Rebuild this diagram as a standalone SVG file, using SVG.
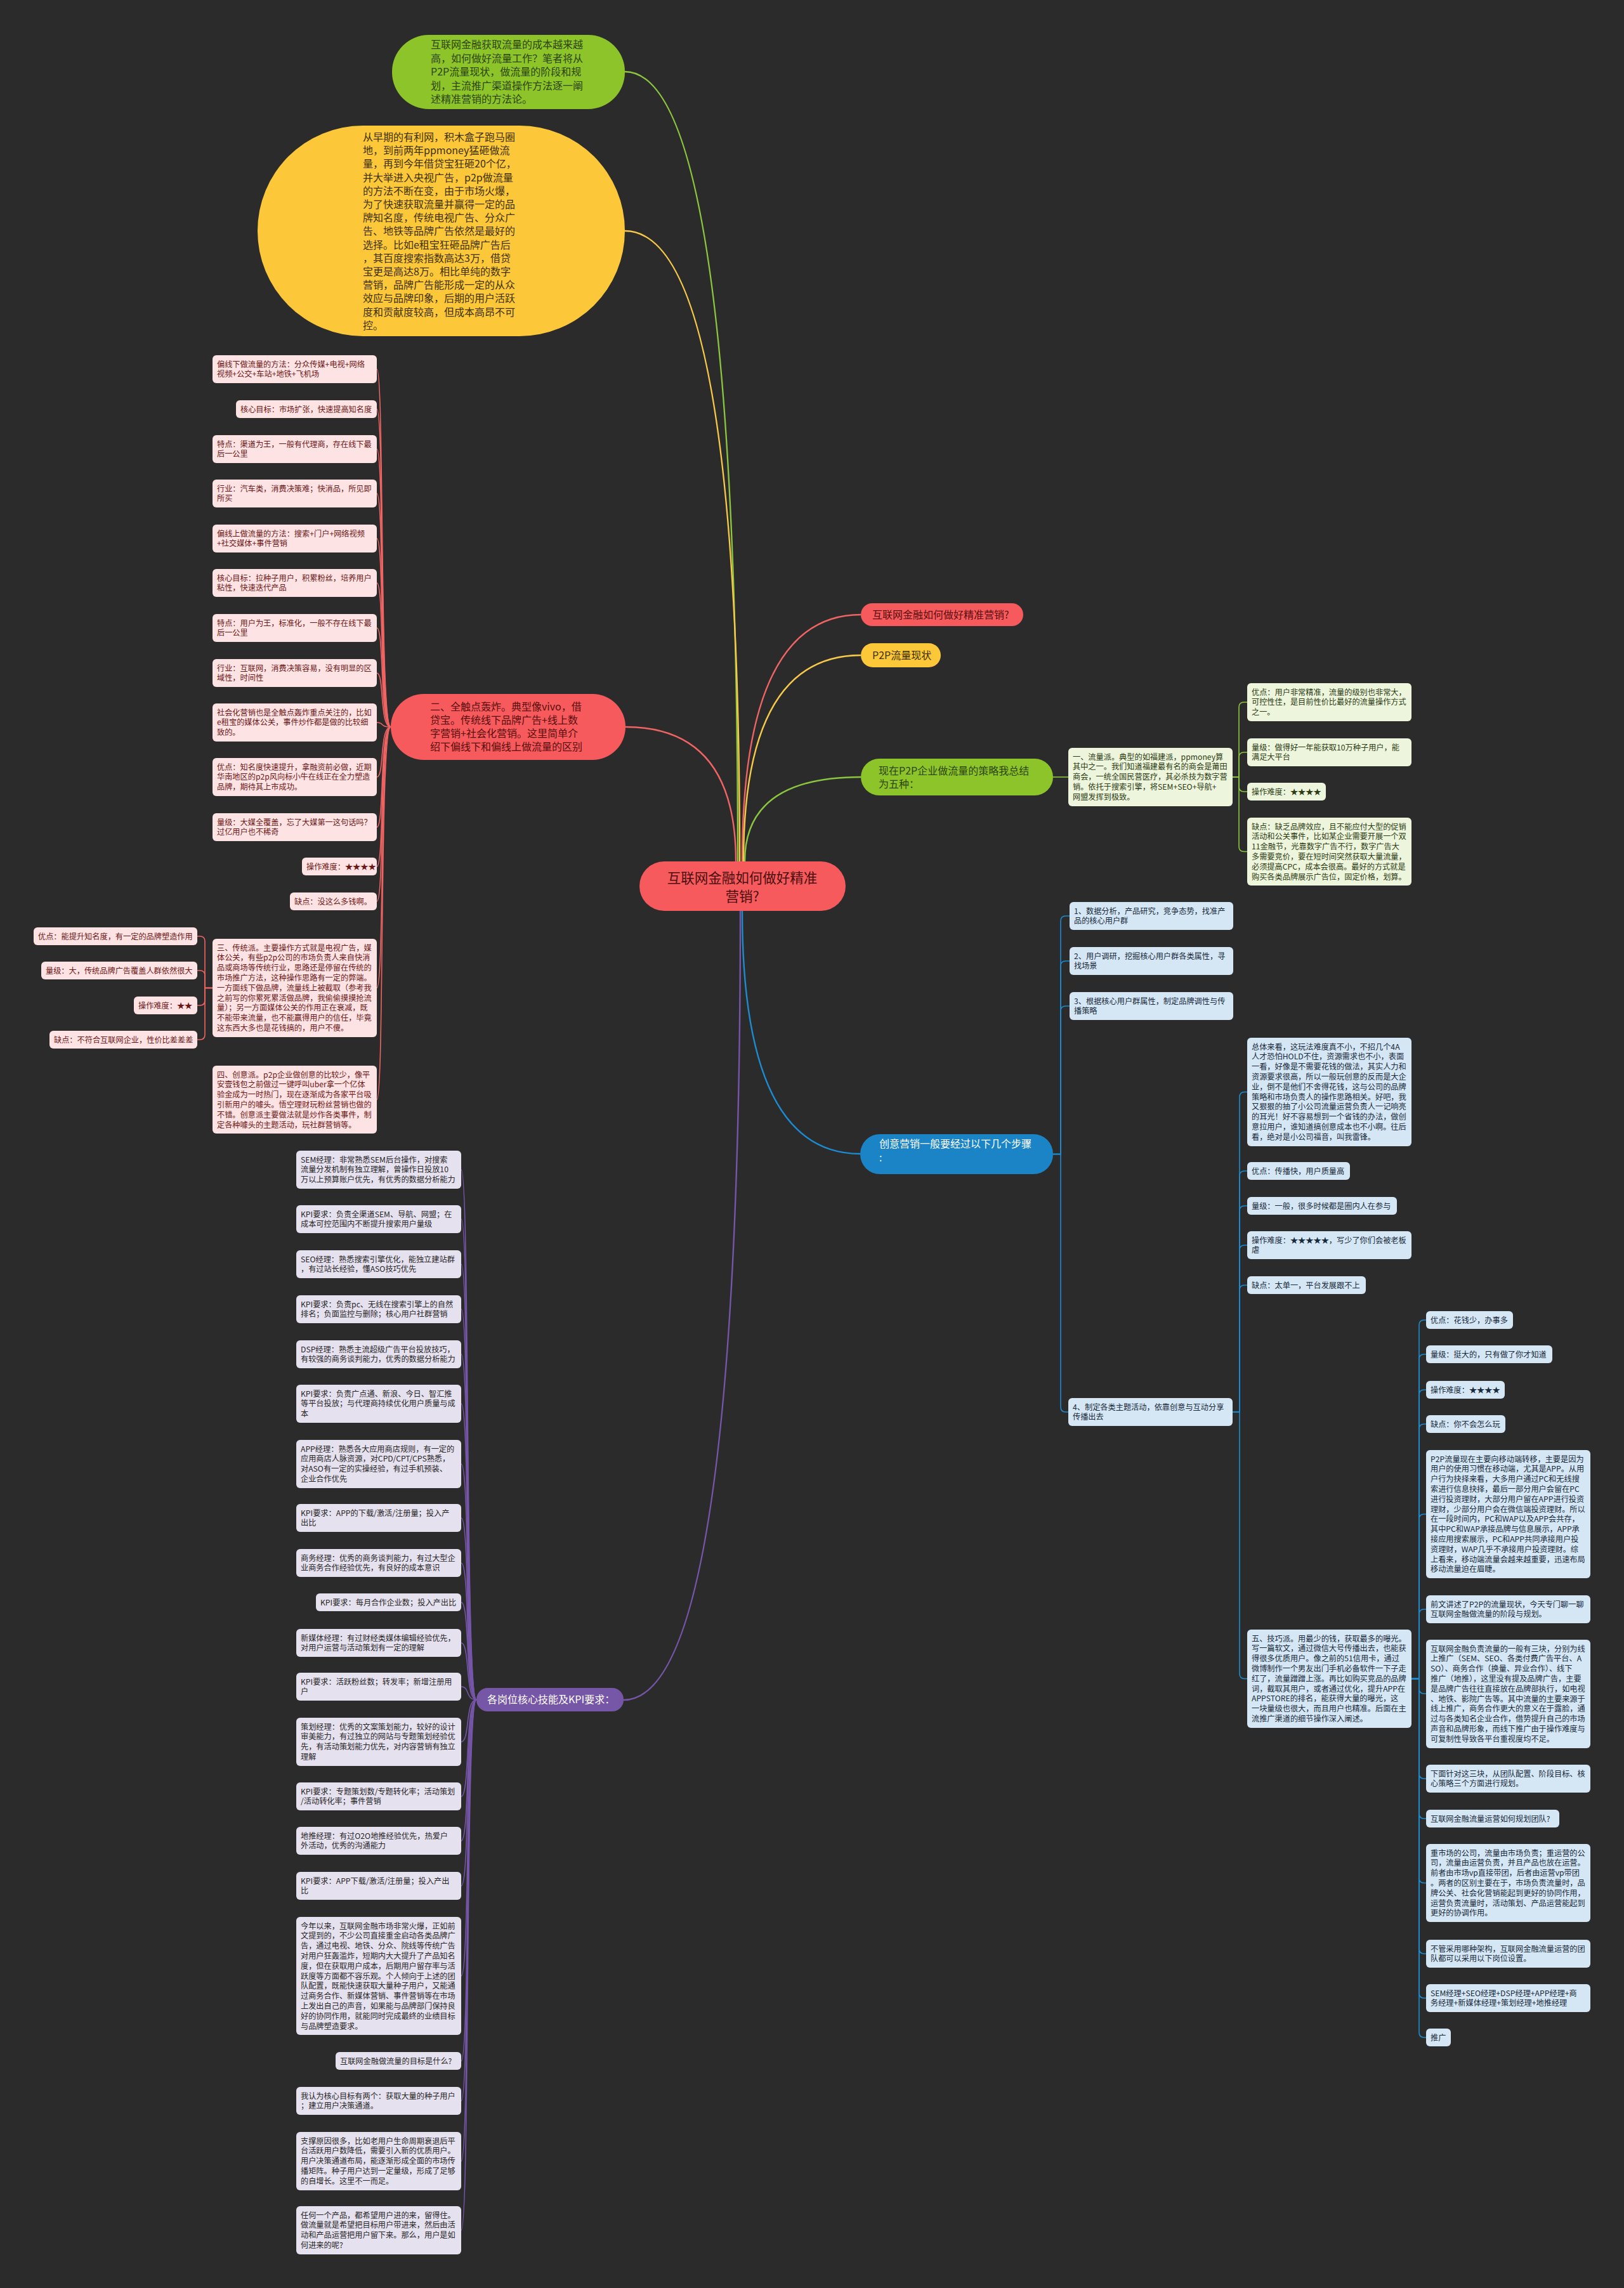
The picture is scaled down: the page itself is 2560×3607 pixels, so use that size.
<svg xmlns="http://www.w3.org/2000/svg" width="2560" height="3607" viewBox="0 0 2560 3607">
<style>
.t{font-family:'Noto Sans CJK SC','Microsoft YaHei',sans-serif;font-size:12.2px}
.h{font-family:'Noto Sans CJK SC','Microsoft YaHei',sans-serif;font-size:16px}
.lr{fill:#fde3e3}.tr{fill:#6e1616}
.lg{fill:#edf5dc}.tg{fill:#2c3b12}
.lb{fill:#d5e7f4}.tb{fill:#17293a}
.lp{fill:#e6e1ef}.tp{fill:#262626}
.c{fill:none;stroke-width:1.6}
.cr{stroke:#f06464}.cy{stroke:#f7c948}.cg{stroke:#8cc63f}.cb{stroke:#1d8bd0}.cp{stroke:#7656a8}
.m{fill:none;stroke-width:2.4}
</style>
<rect x="0" y="0" width="2560" height="3607" fill="#2b2b2b"/>

<g id="connectors">
<path class="m cg" d="M1163,1358 Q1163,113 985,113"/>
<path class="m cy" d="M1166,1358 Q1166,364 985,364"/>
<path class="m cr" d="M1170,1358 Q1170,969 1357,969"/>
<path class="m cy" d="M1172,1358 Q1172,1033 1357,1033"/>
<path class="m cg" d="M1174,1358 Q1174,1225 1357,1225"/>
<path class="m cr" d="M1160,1358 Q1160,1146 986,1146"/>
<path class="m cb" d="M1170,1436 Q1170,1819 1356,1819"/>
<path class="m cp" d="M1167,1436 Q1167,2680 983,2680"/>

<path class="c cr" d="M616,1146 C598,1146 606,582 594,582"/>
<path class="c cr" d="M616,1146 C598,1146 606,645 594,645"/>
<path class="c cr" d="M616,1146 C598,1146 606,708 594,708"/>
<path class="c cr" d="M616,1146 C598,1146 606,778 594,778"/>
<path class="c cr" d="M616,1146 C598,1146 606,849 594,849"/>
<path class="c cr" d="M616,1146 C598,1146 606,919 594,919"/>
<path class="c cr" d="M616,1146 C598,1146 606,990 594,990"/>
<path class="c cr" d="M616,1146 C598,1146 606,1061 594,1061"/>
<path class="c cr" d="M616,1146 C598,1146 606,1139 594,1139"/>
<path class="c cr" d="M616,1146 C598,1146 606,1225 594,1225"/>
<path class="c cr" d="M616,1146 C598,1146 606,1304 594,1304"/>
<path class="c cr" d="M616,1146 C598,1146 606,1366 594,1366"/>
<path class="c cr" d="M616,1146 C598,1146 606,1421 594,1421"/>
<path class="c cr" d="M616,1146 C598,1146 606,1557.5 594,1557.5"/>
<path class="c cr" d="M616,1146 C598,1146 606,1733.5 594,1733.5"/>
<path class="c cr" d="M335,1557.5 H323 V1484 Q323,1476 315,1476 H311"/>
<path class="c cr" d="M335,1557.5 H323 V1538 Q323,1530 315,1530 H311"/>
<path class="c cr" d="M335,1557.5 H323 V1577 Q323,1585 315,1585 H311"/>
<path class="c cr" d="M335,1557.5 H323 V1631 Q323,1639 315,1639 H311"/>

<path class="c cg" d="M1660,1225 H1684"/>
<path class="c cg" d="M1943,1225 H1953 V1115 Q1953,1107 1961,1107 H1966"/>
<path class="c cg" d="M1943,1225 H1953 V1194 Q1953,1186 1961,1186 H1966"/>
<path class="c cg" d="M1943,1225 H1953 V1240 Q1953,1248 1961,1248 H1966"/>
<path class="c cg" d="M1943,1225 H1953 V1334.5 Q1953,1342.5 1961,1342.5 H1966"/>

<path class="c cb" d="M1660,1819.5 H1672 V1452 Q1672,1444 1680,1444 H1686"/>
<path class="c cb" d="M1660,1819.5 H1672 V1523 Q1672,1515 1680,1515 H1686"/>
<path class="c cb" d="M1660,1819.5 H1672 V1594 Q1672,1586 1680,1586 H1686"/>
<path class="c cb" d="M1660,1819.5 H1672 V2218 Q1672,2226 1680,2226 H1684"/>
<path class="c cb" d="M1943,2226 H1954 V1729.5 Q1954,1721.5 1962,1721.5 H1966"/>
<path class="c cb" d="M1943,2226 H1954 V1854 Q1954,1846 1962,1846 H1966"/>
<path class="c cb" d="M1943,2226 H1954 V1909 Q1954,1901 1962,1901 H1966"/>
<path class="c cb" d="M1943,2226 H1954 V1971 Q1954,1963 1962,1963 H1966"/>
<path class="c cb" d="M1943,2226 H1954 V2034 Q1954,2026 1962,2026 H1966"/>
<path class="c cb" d="M1943,2226 H1954 V2638.5 Q1954,2646.5 1962,2646.5 H1966"/>
<path class="c cb" d="M2225,2646.5 H2237 V2089 Q2237,2081 2245,2081 H2248"/>
<path class="c cb" d="M2225,2646.5 H2237 V2143 Q2237,2135 2245,2135 H2248"/>
<path class="c cb" d="M2225,2646.5 H2237 V2199 Q2237,2191 2245,2191 H2248"/>
<path class="c cb" d="M2225,2646.5 H2237 V2253 Q2237,2245 2245,2245 H2248"/>
<path class="c cb" d="M2225,2646.5 H2237 V2395 Q2237,2387 2245,2387 H2248"/>
<path class="c cb" d="M2225,2646.5 H2237 V2545 Q2237,2537 2245,2537 H2248"/>
<path class="c cb" d="M2225,2646.5 H2237 V2662 Q2237,2670 2245,2670 H2248"/>
<path class="c cb" d="M2225,2646.5 H2237 V2796 Q2237,2804 2245,2804 H2248"/>
<path class="c cb" d="M2225,2646.5 H2237 V2859 Q2237,2867 2245,2867 H2248"/>
<path class="c cb" d="M2225,2646.5 H2237 V2960.5 Q2237,2968.5 2245,2968.5 H2248"/>
<path class="c cb" d="M2225,2646.5 H2237 V3072 Q2237,3080 2245,3080 H2248"/>
<path class="c cb" d="M2225,2646.5 H2237 V3142 Q2237,3150 2245,3150 H2248"/>
<path class="c cb" d="M2225,2646.5 H2237 V3204 Q2237,3212 2245,3212 H2248"/>

<path class="c cp" d="M751,2679.5 C733,2679.5 741,1844 727,1844"/>
<path class="c cp" d="M751,2679.5 C733,2679.5 741,1922 727,1922"/>
<path class="c cp" d="M751,2679.5 C733,2679.5 741,1993 727,1993"/>
<path class="c cp" d="M751,2679.5 C733,2679.5 741,2064 727,2064"/>
<path class="c cp" d="M751,2679.5 C733,2679.5 741,2135 727,2135"/>
<path class="c cp" d="M751,2679.5 C733,2679.5 741,2213 727,2213"/>
<path class="c cp" d="M751,2679.5 C733,2679.5 741,2308 727,2308"/>
<path class="c cp" d="M751,2679.5 C733,2679.5 741,2393 727,2393"/>
<path class="c cp" d="M751,2679.5 C733,2679.5 741,2464 727,2464"/>
<path class="c cp" d="M751,2679.5 C733,2679.5 741,2526 727,2526"/>
<path class="c cp" d="M751,2679.5 C733,2679.5 741,2590 727,2590"/>
<path class="c cp" d="M751,2679.5 C733,2679.5 741,2659 727,2659"/>
<path class="c cp" d="M751,2679.5 C733,2679.5 741,2746 727,2746"/>
<path class="c cp" d="M751,2679.5 C733,2679.5 741,2832 727,2832"/>
<path class="c cp" d="M751,2679.5 C733,2679.5 741,2902 727,2902"/>
<path class="c cp" d="M751,2679.5 C733,2679.5 741,2973 727,2973"/>
<path class="c cp" d="M751,2679.5 C733,2679.5 741,3115 727,3115"/>
<path class="c cp" d="M751,2679.5 C733,2679.5 741,3249 727,3249"/>
<path class="c cp" d="M751,2679.5 C733,2679.5 741,3312 727,3312"/>
<path class="c cp" d="M751,2679.5 C733,2679.5 741,3407 727,3407"/>
<path class="c cp" d="M751,2679.5 C733,2679.5 741,3516 727,3516"/>
</g>

<g id="root"><rect x="1008" y="1358" width="325" height="78" rx="39" fill="#f65a5c"/>
<text font-family="'Noto Sans CJK SC','Microsoft YaHei',sans-serif" font-size="21.5" fill="#4a0f10" text-anchor="middle"><tspan x="1170" y="1392">互联网金融如何做好精准</tspan><tspan x="1170" y="1421">营销?</tspan></text></g>

<g id="intro-green"><rect x="618" y="55" width="367" height="117" rx="58" fill="#8cc42a"/>
<text class="h" fill="#2c450a"><tspan x="679" y="76">互联网金融获取流量的成本越来越</tspan><tspan x="679" y="97.5">高，如何做好流量工作？笔者将从</tspan><tspan x="679" y="119">P2P流量现状，做流量的阶段和规</tspan><tspan x="679" y="140.5">划，主流推广渠道操作方法逐一阐</tspan><tspan x="679" y="162">述精准营销的方法论。</tspan></text></g>

<g id="intro-yellow"><rect x="406" y="198" width="579" height="332" rx="166" fill="#fcc83a"/>
<text class="h" fill="#3e3000"><tspan x="572" y="222">从早期的有利网，积木盒子跑马圈</tspan><tspan x="572" y="243.2">地，到前两年ppmoney猛砸做流</tspan><tspan x="572" y="264.4">量，再到今年借贷宝狂砸20个亿，</tspan><tspan x="572" y="285.6">并大举进入央视广告，p2p做流量</tspan><tspan x="572" y="306.8">的方法不断在变，由于市场火爆，</tspan><tspan x="572" y="328">为了快速获取流量并赢得一定的品</tspan><tspan x="572" y="349.2">牌知名度，传统电视广告、分众广</tspan><tspan x="572" y="370.4">告、地铁等品牌广告依然是最好的</tspan><tspan x="572" y="391.6">选择。比如e租宝狂砸品牌广告后</tspan><tspan x="572" y="412.8">，其百度搜索指数高达3万，借贷</tspan><tspan x="572" y="434">宝更是高达8万。相比单纯的数字</tspan><tspan x="572" y="455.2">营销，品牌广告能形成一定的从众</tspan><tspan x="572" y="476.4">效应与品牌印象，后期的用户活跃</tspan><tspan x="572" y="497.6">度和贡献度较高，但成本高昂不可</tspan><tspan x="572" y="518.8">控。</tspan></text></g>

<g id="n-red-title"><rect x="1357" y="951" width="256" height="36" rx="18" fill="#f65a5c"/><text class="h" fill="#5a0e0e" x="1375" y="975">互联网金融如何做好精准营销?</text></g>
<g id="n-p2p"><rect x="1357" y="1014" width="126" height="38" rx="19" fill="#fcc83a"/><text class="h" fill="#3e3000" x="1375" y="1039">P2P流量现状</text></g>
<g id="n-five"><rect x="1357" y="1196" width="303" height="58" rx="29" fill="#8cc42a"/><text class="h" fill="#2c450a"><tspan x="1385" y="1221">现在P2P企业做流量的策略我总结</tspan><tspan x="1385" y="1242">为五种：</tspan></text></g>
<g id="n-creative"><rect x="1356" y="1788" width="304" height="63" rx="31" fill="#1b84c6"/><text class="h" fill="#ffffff"><tspan x="1386" y="1809">创意营销一般要经过以下几个步骤</tspan><tspan x="1386" y="1831">:</tspan></text></g>
<g id="n-kpi"><rect x="751" y="2661" width="232" height="37" rx="18" fill="#7656a6"/><text class="h" fill="#ffffff" x="768" y="2685">各岗位核心技能及KPI要求：</text></g>
<g id="n-touch"><rect x="616" y="1094" width="370" height="104" rx="52" fill="#f65a5c"/>
<text class="h" fill="#5a0e0e"><tspan x="678" y="1120">二、全触点轰炸。典型像vivo，借</tspan><tspan x="678" y="1141">贷宝。传统线下品牌广告+线上数</tspan><tspan x="678" y="1162">字营销+社会化营销。这里简单介</tspan><tspan x="678" y="1183">绍下偏线下和偏线上做流量的区别</tspan></text></g>

<g id="r1"><rect class="lr" x="335" y="560" width="259" height="44" rx="6"/><text class="t tr"><tspan x="342" y="578.5">偏线下做流量的方法：分众传媒+电视+网络</tspan><tspan x="342" y="594.3">视频+公交+车站+地铁+飞机场</tspan></text></g>
<g id="r2"><rect class="lr" x="372" y="631" width="222" height="28" rx="6"/><text class="t tr" x="379" y="649.5">核心目标：市场扩张，快速提高知名度</text></g>
<g id="r3"><rect class="lr" x="335" y="686" width="259" height="44" rx="6"/><text class="t tr"><tspan x="342" y="704.5">特点：渠道为王，一般有代理商，存在线下最</tspan><tspan x="342" y="720.3">后一公里</tspan></text></g>
<g id="r4"><rect class="lr" x="335" y="756" width="259" height="44" rx="6"/><text class="t tr"><tspan x="342" y="774.5">行业：汽车类，消费决策难；快消品，所见即</tspan><tspan x="342" y="790.3">所买</tspan></text></g>
<g id="r5"><rect class="lr" x="335" y="827" width="259" height="44" rx="6"/><text class="t tr"><tspan x="342" y="845.5">偏线上做流量的方法：搜索+门户+网络视频</tspan><tspan x="342" y="861.3">+社交媒体+事件营销</tspan></text></g>
<g id="r6"><rect class="lr" x="335" y="897" width="259" height="44" rx="6"/><text class="t tr"><tspan x="342" y="915.5">核心目标：拉种子用户，积累粉丝，培养用户</tspan><tspan x="342" y="931.3">粘性，快速迭代产品</tspan></text></g>
<g id="r7"><rect class="lr" x="335" y="968" width="259" height="44" rx="6"/><text class="t tr"><tspan x="342" y="986.5">特点：用户为王，标准化，一般不存在线下最</tspan><tspan x="342" y="1002.3">后一公里</tspan></text></g>
<g id="r8"><rect class="lr" x="335" y="1039" width="259" height="44" rx="6"/><text class="t tr"><tspan x="342" y="1057.5">行业：互联网，消费决策容易，没有明显的区</tspan><tspan x="342" y="1073.3">域性，时间性</tspan></text></g>
<g id="r9"><rect class="lr" x="335" y="1109" width="259" height="60" rx="6"/><text class="t tr"><tspan x="342" y="1127.5">社会化营销也是全触点轰炸重点关注的，比如</tspan><tspan x="342" y="1143.3">e租宝的媒体公关，事件炒作都是做的比较细</tspan><tspan x="342" y="1159.1">致的。</tspan></text></g>
<g id="r10"><rect class="lr" x="335" y="1195" width="259" height="60" rx="6"/><text class="t tr"><tspan x="342" y="1213.5">优点：知名度快速提升，拿融资前必做，近期</tspan><tspan x="342" y="1229.3">华南地区的p2p风向标小牛在线正在全力塑造</tspan><tspan x="342" y="1245.1">品牌，期待其上市成功。</tspan></text></g>
<g id="r11"><rect class="lr" x="335" y="1282" width="259" height="44" rx="6"/><text class="t tr"><tspan x="342" y="1300.5">量级：大媒全覆盖，忘了大媒第一这句话吗？</tspan><tspan x="342" y="1316.3">过亿用户也不稀奇</tspan></text></g>
<g id="r12"><rect class="lr" x="476" y="1352" width="118" height="28" rx="6"/><text class="t tr" x="483" y="1370.5">操作难度：★★★★</text></g>
<g id="r13"><rect class="lr" x="457" y="1407" width="137" height="28" rx="6"/><text class="t tr" x="464" y="1425.5">缺点：没这么多钱啊。</text></g>
<g id="r14"><rect class="lr" x="335" y="1480" width="259" height="155" rx="6"/><text class="t tr"><tspan x="342" y="1498.5">三、传统派。主要操作方式就是电视广告，媒</tspan><tspan x="342" y="1514.3">体公关，有些p2p公司的市场负责人来自快消</tspan><tspan x="342" y="1530.1">品或商场等传统行业，思路还是停留在传统的</tspan><tspan x="342" y="1545.9">市场推广方法，这种操作思路有一定的弊端。</tspan><tspan x="342" y="1561.7">一方面线下做品牌，流量线上被截取（参考我</tspan><tspan x="342" y="1577.5">之前写的你累死累活做品牌，我偷偷摸摸抢流</tspan><tspan x="342" y="1593.3">量）；另一方面媒体公关的作用正在衰减，既</tspan><tspan x="342" y="1609.1">不能带来流量，也不能赢得用户的信任，毕竟</tspan><tspan x="342" y="1624.9">这东西大多也是花钱搞的，用户不傻。</tspan></text></g>
<g id="r15"><rect class="lr" x="335" y="1680" width="259" height="107" rx="6"/><text class="t tr"><tspan x="342" y="1698.5">四、创意派。p2p企业做创意的比较少，像平</tspan><tspan x="342" y="1714.3">安壹钱包之前做过一键呼叫uber拿一个亿体</tspan><tspan x="342" y="1730.1">验金成为一时热门，现在逐渐成为各家平台吸</tspan><tspan x="342" y="1745.9">引新用户的噱头。悟空理财玩粉丝营销也做的</tspan><tspan x="342" y="1761.7">不错。创意派主要做法就是炒作各类事件，制</tspan><tspan x="342" y="1777.5">定各种噱头的主题活动，玩社群营销等。</tspan></text></g>
<g id="l1"><rect class="lr" x="53" y="1462" width="258" height="28" rx="6"/><text class="t tr" x="60" y="1480.5">优点：能提升知名度，有一定的品牌塑造作用</text></g>
<g id="l2"><rect class="lr" x="65" y="1516" width="246" height="28" rx="6"/><text class="t tr" x="72" y="1534.5">量级：大，传统品牌广告覆盖人群依然很大</text></g>
<g id="l3"><rect class="lr" x="211" y="1571" width="100" height="28" rx="6"/><text class="t tr" x="218" y="1589.5">操作难度：★★</text></g>
<g id="l4"><rect class="lr" x="78" y="1625" width="233" height="28" rx="6"/><text class="t tr" x="85" y="1643.5">缺点：不符合互联网企业，性价比差差差</text></g>

<g id="g0"><rect class="lg" x="1684" y="1179" width="259" height="92" rx="6"/><text class="t tg"><tspan x="1691" y="1197.5">一、流量派。典型的如福建派，ppmoney算</tspan><tspan x="1691" y="1213.3">其中之一。我们知道福建最有名的商会是莆田</tspan><tspan x="1691" y="1229.1">商会，一统全国民营医疗，其必杀技为数字营</tspan><tspan x="1691" y="1244.9">销。依托于搜索引擎，将SEM+SEO+导航+</tspan><tspan x="1691" y="1260.7">网盟发挥到极致。</tspan></text></g>
<g id="g1"><rect class="lg" x="1966" y="1077" width="259" height="60" rx="6"/><text class="t tg"><tspan x="1973" y="1095.5">优点：用户非常精准，流量的级别也非常大，</tspan><tspan x="1973" y="1111.3">可控性佳，是目前性价比最好的流量操作方式</tspan><tspan x="1973" y="1127.1">之一。</tspan></text></g>
<g id="g2"><rect class="lg" x="1966" y="1164" width="259" height="44" rx="6"/><text class="t tg"><tspan x="1973" y="1182.5">量级：做得好一年能获取10万种子用户，能</tspan><tspan x="1973" y="1198.3">满足大平台</tspan></text></g>
<g id="g3"><rect class="lg" x="1966" y="1234" width="124" height="28" rx="6"/><text class="t tg" x="1973" y="1252.5">操作难度：★★★★</text></g>
<g id="g4"><rect class="lg" x="1966" y="1289" width="259" height="107" rx="6"/><text class="t tg"><tspan x="1973" y="1307.5">缺点：缺乏品牌效应，且不能应付大型的促销</tspan><tspan x="1973" y="1323.3">活动和公关事件，比如某企业需要开展一个双</tspan><tspan x="1973" y="1339.1">11金融节，光靠数字广告不行，数字广告大</tspan><tspan x="1973" y="1354.9">多需要竞价，要在短时间突然获取大量流量，</tspan><tspan x="1973" y="1370.7">必须提高CPC，成本会很高。最好的方式就是</tspan><tspan x="1973" y="1386.5">购买各类品牌展示广告位，固定价格，划算。</tspan></text></g>

<g id="b1"><rect class="lb" x="1686" y="1422" width="258" height="44" rx="6"/><text class="t tb"><tspan x="1693" y="1440.5">1、数据分析，产品研究，竞争态势，找准产</tspan><tspan x="1693" y="1456.3">品的核心用户群</tspan></text></g>
<g id="b2"><rect class="lb" x="1686" y="1493" width="258" height="44" rx="6"/><text class="t tb"><tspan x="1693" y="1511.5">2、用户调研，挖掘核心用户群各类属性，寻</tspan><tspan x="1693" y="1527.3">找场景</tspan></text></g>
<g id="b3"><rect class="lb" x="1686" y="1564" width="258" height="44" rx="6"/><text class="t tb"><tspan x="1693" y="1582.5">3、根据核心用户群属性，制定品牌调性与传</tspan><tspan x="1693" y="1598.3">播策略</tspan></text></g>
<g id="b4"><rect class="lb" x="1684" y="2204" width="259" height="44" rx="6"/><text class="t tb"><tspan x="1691" y="2222.5">4、制定各类主题活动，依靠创意与互动分享</tspan><tspan x="1691" y="2238.3">传播出去</tspan></text></g>
<g id="c1"><rect class="lb" x="1966" y="1636" width="259" height="171" rx="6"/><text class="t tb"><tspan x="1973" y="1654.5">总体来看，这玩法难度真不小，不招几个4A</tspan><tspan x="1973" y="1670.3">人才恐怕HOLD不住，资源需求也不小，表面</tspan><tspan x="1973" y="1686.1">一看，好像是不需要花钱的做法，其实人力和</tspan><tspan x="1973" y="1701.9">资源要求很高，所以一般玩创意的反而是大企</tspan><tspan x="1973" y="1717.7">业，倒不是他们不舍得花钱，这与公司的品牌</tspan><tspan x="1973" y="1733.5">策略和市场负责人的操作思路相关。好吧，我</tspan><tspan x="1973" y="1749.3">又狠狠的抽了小公司流量运营负责人一记响亮</tspan><tspan x="1973" y="1765.1">的耳光！好不容易想到一个省钱的办法，做创</tspan><tspan x="1973" y="1780.9">意拉用户，谁知道搞创意成本也不小啊。往后</tspan><tspan x="1973" y="1796.7">看，绝对是小公司福音，叫我雷锋。</tspan></text></g>
<g id="c2"><rect class="lb" x="1966" y="1832" width="162" height="28" rx="6"/><text class="t tb" x="1973" y="1850.5">优点：传播快，用户质量高</text></g>
<g id="c3"><rect class="lb" x="1966" y="1887" width="236" height="28" rx="6"/><text class="t tb" x="1973" y="1905.5">量级：一般，很多时候都是圈内人在参与</text></g>
<g id="c4"><rect class="lb" x="1966" y="1941" width="259" height="44" rx="6"/><text class="t tb"><tspan x="1973" y="1959.5">操作难度：★★★★★，写少了你们会被老板</tspan><tspan x="1973" y="1975.3">虐</tspan></text></g>
<g id="c5"><rect class="lb" x="1966" y="2012" width="187" height="28" rx="6"/><text class="t tb" x="1973" y="2030.5">缺点：太单一，平台发展跟不上</text></g>
<g id="c6"><rect class="lb" x="1966" y="2569" width="259" height="155" rx="6"/><text class="t tb"><tspan x="1973" y="2587.5">五、技巧派。用最少的钱，获取最多的曝光。</tspan><tspan x="1973" y="2603.3">写一篇软文，通过微信大号传播出去，也能获</tspan><tspan x="1973" y="2619.1">得很多优质用户。像之前的51信用卡，通过</tspan><tspan x="1973" y="2634.9">微博制作一个男友出门手机必备软件一下子走</tspan><tspan x="1973" y="2650.7">红了，流量蹭蹭上涨。再比如购买竞品的品牌</tspan><tspan x="1973" y="2666.5">词，截取其用户，或者通过优化，提升APP在</tspan><tspan x="1973" y="2682.3">APPSTORE的排名，能获得大量的曝光，这</tspan><tspan x="1973" y="2698.1">一块量级也很大，而且用户也精准。后面在主</tspan><tspan x="1973" y="2713.9">流推广渠道的细节操作深入阐述。</tspan></text></g>

<g id="f1"><rect class="lb" x="2248" y="2067" width="137" height="28" rx="6"/><text class="t tb" x="2255" y="2085.5">优点：花钱少，办事多</text></g>
<g id="f2"><rect class="lb" x="2248" y="2121" width="199" height="28" rx="6"/><text class="t tb" x="2255" y="2139.5">量级：挺大的，只有做了你才知道</text></g>
<g id="f3"><rect class="lb" x="2248" y="2177" width="124" height="28" rx="6"/><text class="t tb" x="2255" y="2195.5">操作难度：★★★★</text></g>
<g id="f4"><rect class="lb" x="2248" y="2231" width="125" height="28" rx="6"/><text class="t tb" x="2255" y="2249.5">缺点：你不会怎么玩</text></g>
<g id="f5"><rect class="lb" x="2248" y="2286" width="259" height="202" rx="6"/><text class="t tb"><tspan x="2255" y="2304.5">P2P流量现在主要向移动端转移，主要是因为</tspan><tspan x="2255" y="2320.3">用户的使用习惯在移动端，尤其是APP。从用</tspan><tspan x="2255" y="2336.1">户行为抉择来看，大多用户通过PC和无线搜</tspan><tspan x="2255" y="2351.9">索进行信息抉择，最后一部分用户会留在PC</tspan><tspan x="2255" y="2367.7">进行投资理财，大部分用户留在APP进行投资</tspan><tspan x="2255" y="2383.5">理财，少部分用户会在微信端投资理财。所以</tspan><tspan x="2255" y="2399.3">在一段时间内，PC和WAP以及APP会共存，</tspan><tspan x="2255" y="2415.1">其中PC和WAP承接品牌与信息展示，APP承</tspan><tspan x="2255" y="2430.9">接应用搜索展示，PC和APP共同承接用户投</tspan><tspan x="2255" y="2446.7">资理财，WAP几乎不承接用户投资理财。综</tspan><tspan x="2255" y="2462.5">上看来，移动端流量会越来越重要，迅速布局</tspan><tspan x="2255" y="2478.3">移动流量迫在眉睫。</tspan></text></g>
<g id="f6"><rect class="lb" x="2248" y="2515" width="259" height="44" rx="6"/><text class="t tb"><tspan x="2255" y="2533.5">前文讲述了P2P的流量现状，今天专门聊一聊</tspan><tspan x="2255" y="2549.3">互联网金融做流量的阶段与规划。</tspan></text></g>
<g id="f7"><rect class="lb" x="2248" y="2585" width="259" height="171" rx="6"/><text class="t tb"><tspan x="2255" y="2603.5">互联网金融负责流量的一般有三块，分别为线</tspan><tspan x="2255" y="2619.3">上推广（SEM、SEO、各类付费广告平台、A</tspan><tspan x="2255" y="2635.1">SO）、商务合作（换量、异业合作）、线下</tspan><tspan x="2255" y="2650.9">推广（地推），这里没有提及品牌广告，主要</tspan><tspan x="2255" y="2666.7">是品牌广告往往直接放在品牌部执行，如电视</tspan><tspan x="2255" y="2682.5">、地铁、影院广告等。其中流量的主要来源于</tspan><tspan x="2255" y="2698.3">线上推广，商务合作更大的意义在于露脸，通</tspan><tspan x="2255" y="2714.1">过与各类知名企业合作，借势提升自己的市场</tspan><tspan x="2255" y="2729.9">声音和品牌形象，而线下推广由于操作难度与</tspan><tspan x="2255" y="2745.7">可复制性导致各平台重视度均不足。</tspan></text></g>
<g id="f8"><rect class="lb" x="2248" y="2782" width="259" height="44" rx="6"/><text class="t tb"><tspan x="2255" y="2800.5">下面针对这三块，从团队配置、阶段目标、核</tspan><tspan x="2255" y="2816.3">心策略三个方面进行规划。</tspan></text></g>
<g id="f9"><rect class="lb" x="2248" y="2853" width="210" height="28" rx="6"/><text class="t tb" x="2255" y="2871.5">互联网金融流量运营如何规划团队?</text></g>
<g id="f10"><rect class="lb" x="2248" y="2907" width="259" height="123" rx="6"/><text class="t tb"><tspan x="2255" y="2925.5">重市场的公司，流量由市场负责；重运营的公</tspan><tspan x="2255" y="2941.3">司，流量由运营负责，并且产品也放在运营。</tspan><tspan x="2255" y="2957.1">前者由市场vp直接带团，后者由运营vp带团</tspan><tspan x="2255" y="2972.9">。两者的区别主要在于，市场负责流量时，品</tspan><tspan x="2255" y="2988.7">牌公关、社会化营销能起到更好的协同作用，</tspan><tspan x="2255" y="3004.5">运营负责流量时，活动策划、产品运营能起到</tspan><tspan x="2255" y="3020.3">更好的协调作用。</tspan></text></g>
<g id="f11"><rect class="lb" x="2248" y="3058" width="259" height="44" rx="6"/><text class="t tb"><tspan x="2255" y="3076.5">不管采用哪种架构，互联网金融流量运营的团</tspan><tspan x="2255" y="3092.3">队都可以采用以下岗位设置。</tspan></text></g>
<g id="f12"><rect class="lb" x="2248" y="3128" width="259" height="44" rx="6"/><text class="t tb"><tspan x="2255" y="3146.5">SEM经理+SEO经理+DSP经理+APP经理+商</tspan><tspan x="2255" y="3162.3">务经理+新媒体经理+策划经理+地推经理</tspan></text></g>
<g id="f13"><rect class="lb" x="2248" y="3198" width="39" height="28" rx="6"/><text class="t tb" x="2255" y="3216.5">推广</text></g>

<g id="p1"><rect class="lp" x="467" y="1814" width="260" height="60" rx="6"/><text class="t tp"><tspan x="474" y="1832.5">SEM经理：非常熟悉SEM后台操作，对搜索</tspan><tspan x="474" y="1848.3">流量分发机制有独立理解，曾操作日投放10</tspan><tspan x="474" y="1864.1">万以上预算账户优先，有优秀的数据分析能力</tspan></text></g>
<g id="p2"><rect class="lp" x="467" y="1900" width="260" height="44" rx="6"/><text class="t tp"><tspan x="474" y="1918.5">KPI要求：负责全渠道SEM、导航、网盟；在</tspan><tspan x="474" y="1934.3">成本可控范围内不断提升搜索用户量级</tspan></text></g>
<g id="p3"><rect class="lp" x="467" y="1971" width="260" height="44" rx="6"/><text class="t tp"><tspan x="474" y="1989.5">SEO经理：熟悉搜索引擎优化，能独立建站群</tspan><tspan x="474" y="2005.3">，有过站长经验，懂ASO技巧优先</tspan></text></g>
<g id="p4"><rect class="lp" x="467" y="2042" width="260" height="44" rx="6"/><text class="t tp"><tspan x="474" y="2060.5">KPI要求：负责pc、无线在搜索引擎上的自然</tspan><tspan x="474" y="2076.3">排名；负面监控与删除；核心用户社群营销</tspan></text></g>
<g id="p5"><rect class="lp" x="467" y="2113" width="260" height="44" rx="6"/><text class="t tp"><tspan x="474" y="2131.5">DSP经理：熟悉主流超级广告平台投放技巧，</tspan><tspan x="474" y="2147.3">有较强的商务谈判能力，优秀的数据分析能力</tspan></text></g>
<g id="p6"><rect class="lp" x="467" y="2183" width="260" height="60" rx="6"/><text class="t tp"><tspan x="474" y="2201.5">KPI要求：负责广点通、新浪、今日、智汇推</tspan><tspan x="474" y="2217.3">等平台投放；与代理商持续优化用户质量与成</tspan><tspan x="474" y="2233.1">本</tspan></text></g>
<g id="p7"><rect class="lp" x="467" y="2270" width="260" height="76" rx="6"/><text class="t tp"><tspan x="474" y="2288.5">APP经理：熟悉各大应用商店规则，有一定的</tspan><tspan x="474" y="2304.3">应用商店人脉资源，对CPD/CPT/CPS熟悉，</tspan><tspan x="474" y="2320.1">对ASO有一定的实操经验，有过手机预装、</tspan><tspan x="474" y="2335.9">企业合作优先</tspan></text></g>
<g id="p8"><rect class="lp" x="467" y="2371" width="260" height="44" rx="6"/><text class="t tp"><tspan x="474" y="2389.5">KPI要求：APP的下载/激活/注册量；投入产</tspan><tspan x="474" y="2405.3">出比</tspan></text></g>
<g id="p9"><rect class="lp" x="467" y="2442" width="260" height="44" rx="6"/><text class="t tp"><tspan x="474" y="2460.5">商务经理：优秀的商务谈判能力，有过大型企</tspan><tspan x="474" y="2476.3">业商务合作经验优先，有良好的成本意识</tspan></text></g>
<g id="p10"><rect class="lp" x="498" y="2512" width="229" height="28" rx="6"/><text class="t tp" x="505" y="2530.5">KPI要求：每月合作企业数；投入产出比</text></g>
<g id="p11"><rect class="lp" x="467" y="2568" width="260" height="44" rx="6"/><text class="t tp"><tspan x="474" y="2586.5">新媒体经理：有过财经类媒体编辑经验优先，</tspan><tspan x="474" y="2602.3">对用户运营与活动策划有一定的理解</tspan></text></g>
<g id="p12"><rect class="lp" x="467" y="2637" width="260" height="44" rx="6"/><text class="t tp"><tspan x="474" y="2655.5">KPI要求：活跃粉丝数；转发率；新增注册用</tspan><tspan x="474" y="2671.3">户</tspan></text></g>
<g id="p13"><rect class="lp" x="467" y="2708" width="260" height="76" rx="6"/><text class="t tp"><tspan x="474" y="2726.5">策划经理：优秀的文案策划能力，较好的设计</tspan><tspan x="474" y="2742.3">审美能力，有过独立的网站与专题策划经验优</tspan><tspan x="474" y="2758.1">先，有活动策划能力优先，对内容营销有独立</tspan><tspan x="474" y="2773.9">理解</tspan></text></g>
<g id="p14"><rect class="lp" x="467" y="2810" width="260" height="44" rx="6"/><text class="t tp"><tspan x="474" y="2828.5">KPI要求：专题策划数/专题转化率；活动策划</tspan><tspan x="474" y="2844.3">/活动转化率；事件营销</tspan></text></g>
<g id="p15"><rect class="lp" x="467" y="2880" width="260" height="44" rx="6"/><text class="t tp"><tspan x="474" y="2898.5">地推经理：有过O2O地推经验优先，热爱户</tspan><tspan x="474" y="2914.3">外活动，优秀的沟通能力</tspan></text></g>
<g id="p16"><rect class="lp" x="467" y="2951" width="260" height="44" rx="6"/><text class="t tp"><tspan x="474" y="2969.5">KPI要求：APP下载/激活/注册量；投入产出</tspan><tspan x="474" y="2985.3">比</tspan></text></g>
<g id="p17"><rect class="lp" x="467" y="3022" width="260" height="186" rx="6"/><text class="t tp"><tspan x="474" y="3040.5">今年以来，互联网金融市场非常火爆，正如前</tspan><tspan x="474" y="3056.3">文提到的，不少公司直接重金启动各类品牌广</tspan><tspan x="474" y="3072.1">告，通过电视、地铁、分众、院线等传统广告</tspan><tspan x="474" y="3087.9">对用户狂轰滥炸，短期内大大提升了产品知名</tspan><tspan x="474" y="3103.7">度，但在获取用户成本，后期用户留存率与活</tspan><tspan x="474" y="3119.5">跃度等方面都不容乐观。个人倾向于上述的团</tspan><tspan x="474" y="3135.3">队配置，既能快速获取大量种子用户，又能通</tspan><tspan x="474" y="3151.1">过商务合作、新媒体营销、事件营销等在市场</tspan><tspan x="474" y="3166.9">上发出自己的声音，如果能与品牌部门保持良</tspan><tspan x="474" y="3182.7">好的协同作用，就能同时完成最终的业绩目标</tspan><tspan x="474" y="3198.5">与品牌塑造要求。</tspan></text></g>
<g id="p18"><rect class="lp" x="529" y="3235" width="198" height="28" rx="6"/><text class="t tp" x="536" y="3253.5">互联网金融做流量的目标是什么?</text></g>
<g id="p19"><rect class="lp" x="467" y="3290" width="260" height="44" rx="6"/><text class="t tp"><tspan x="474" y="3308.5">我认为核心目标有两个：获取大量的种子用户</tspan><tspan x="474" y="3324.3">；建立用户决策通道。</tspan></text></g>
<g id="p20"><rect class="lp" x="467" y="3361" width="260" height="92" rx="6"/><text class="t tp"><tspan x="474" y="3379.5">支撑原因很多，比如老用户生命周期衰退后平</tspan><tspan x="474" y="3395.3">台活跃用户数降低，需要引入新的优质用户。</tspan><tspan x="474" y="3411.1">用户决策通道布局，能逐渐形成全面的市场传</tspan><tspan x="474" y="3426.9">播矩阵。种子用户达到一定量级，形成了足够</tspan><tspan x="474" y="3442.7">的自增长。这里不一而足。</tspan></text></g>
<g id="p21"><rect class="lp" x="467" y="3478" width="260" height="76" rx="6"/><text class="t tp"><tspan x="474" y="3496.5">任何一个产品，都希望用户进的来，留得住。</tspan><tspan x="474" y="3512.3">做流量就是希望把目标用户带进来，然后由活</tspan><tspan x="474" y="3528.1">动和产品运营把用户留下来。那么，用户是如</tspan><tspan x="474" y="3543.9">何进来的呢?</tspan></text></g>
</svg>
